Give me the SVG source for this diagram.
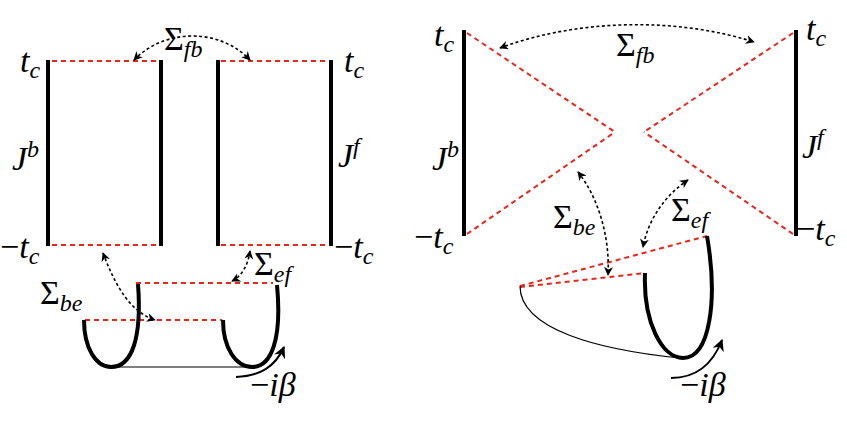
<svg xmlns="http://www.w3.org/2000/svg" width="847" height="426" viewBox="0 0 847 426">
<defs>
<style>
.thick{stroke:#000;stroke-width:4;fill:none}
.thin{stroke:#000;stroke-width:1.2;fill:none}
.red{stroke:#e8261c;stroke-width:2;stroke-dasharray:5,4;fill:none}
.dot{stroke:#000;stroke-width:1.6;stroke-dasharray:3,2.5;fill:none;marker-start:url(#ah);marker-end:url(#ah)}
.arr{stroke:#000;stroke-width:2;fill:none;marker-end:url(#ah2)}
text{font-family:"Liberation Serif","DejaVu Serif",serif;font-style:italic;fill:#000}
.up{font-style:normal}
</style>
<marker id="ah" viewBox="0 0 10 10" refX="9" refY="5" markerWidth="9" markerHeight="9" markerUnits="userSpaceOnUse" orient="auto-start-reverse"><path d="M0,0L10,5L0,10L3,5Z" fill="#000"/></marker>
<marker id="ah2" viewBox="0 0 10 10" refX="9" refY="5" markerWidth="12" markerHeight="12" markerUnits="userSpaceOnUse" orient="auto"><path d="M0,0L10,5L0,10L3,5Z" fill="#000"/></marker>
</defs>
<g id="left-b" font-size="34">
<line class="thick" x1="48" y1="60" x2="48" y2="246"/>
<line class="thick" x1="161" y1="60" x2="161" y2="246"/>
<line class="red" x1="52" y1="61" x2="159" y2="61"/>
<line class="red" x1="52" y1="245" x2="159" y2="245"/>
<text x="20" y="72">t<tspan font-size="24" dy="6">c</tspan></text>
<text x="12" y="170">J<tspan font-size="24" dy="-13">b</tspan></text>
<text x="0" y="258"><tspan class="up">−</tspan>t<tspan font-size="24" dy="6">c</tspan></text>
</g>
<g id="left-f" font-size="34">
<line class="thick" x1="218" y1="60" x2="218" y2="246"/>
<line class="thick" x1="331" y1="60" x2="331" y2="246"/>
<line class="red" x1="221" y1="61" x2="329" y2="61"/>
<line class="red" x1="221" y1="245" x2="329" y2="245"/>
<text x="344" y="72">t<tspan font-size="24" dy="6">c</tspan></text>
<text x="338" y="167">J<tspan font-size="24" dy="-13">f</tspan></text>
<text x="334" y="258"><tspan class="up">−</tspan>t<tspan font-size="24" dy="6">c</tspan></text>
</g>
<g id="left-e" font-size="34">
<line class="red" x1="136" y1="283" x2="273" y2="283"/>
<line class="red" x1="85" y1="320" x2="222" y2="320"/>
<path class="thick" d="M84,320 C84,348 96,367 111,367 C132,367 142,338 138,284"/>
<path class="thick" d="M223,320 C223,348 236,367 252,367 C272,367 282,338 277,285"/>
<line class="thin" x1="111" y1="367" x2="252" y2="367"/>
<text x="250" y="396"><tspan class="up">−</tspan>iβ</text>
</g>
<g id="right-b" font-size="34">
<line class="thick" x1="464" y1="30" x2="464" y2="236"/>
<line class="red" x1="467" y1="33" x2="615" y2="132"/>
<line class="red" x1="467" y1="234" x2="615" y2="132"/>
<text x="434" y="46">t<tspan font-size="24" dy="6">c</tspan></text>
<text x="432" y="170">J<tspan font-size="24" dy="-13">b</tspan></text>
<text x="414" y="248"><tspan class="up">−</tspan>t<tspan font-size="24" dy="6">c</tspan></text>
</g>
<g id="right-f" font-size="34">
<line class="thick" x1="796" y1="30" x2="796" y2="236"/>
<line class="red" x1="793" y1="33" x2="644" y2="132"/>
<line class="red" x1="793" y1="234" x2="644" y2="132"/>
<text x="806" y="40">t<tspan font-size="24" dy="6">c</tspan></text>
<text x="802" y="158">J<tspan font-size="24" dy="-13">f</tspan></text>
<text x="796" y="240"><tspan class="up">−</tspan>t<tspan font-size="24" dy="6">c</tspan></text>
</g>
<g id="right-e" font-size="34">
<line class="red" x1="520" y1="286" x2="707" y2="236"/>
<line class="red" x1="520" y1="287" x2="645" y2="273"/>
<path class="thick" d="M645,273 C643,322 662,358 683,358 C710,358 718,300 707,236"/>
<path class="thin" d="M520,286 C520,330 600,350 680,358"/>
<text x="680" y="396"><tspan class="up">−</tspan>iβ</text>
</g>
<g id="connectors">
<path class="dot" d="M134,60 C165,28 220,28 250,60"/>
<path class="dot" d="M103,253 C115,285 130,312 155,320"/>
<path class="dot" d="M250,251 C248,265 242,276 232,281"/>
<path class="dot" d="M500,48 C580,18 680,18 754,42"/>
<path class="dot" d="M578,172 C600,200 610,240 608,275"/>
<path class="dot" d="M688,180 C665,195 648,220 643,247"/>
<path class="arr" d="M236,377 C260,376 275,367 284,347"/>
<path class="arr" d="M671,378 C695,378 712,366 722,340"/>
</g>
<g id="labels" font-size="34">
<text x="164" y="50"><tspan class="up">Σ</tspan><tspan font-size="24" dy="7">fb</tspan></text>
<text x="40" y="304"><tspan class="up">Σ</tspan><tspan font-size="24" dy="7">be</tspan></text>
<text x="254" y="275"><tspan class="up">Σ</tspan><tspan font-size="24" dy="7">ef</tspan></text>
<text x="616" y="56"><tspan class="up">Σ</tspan><tspan font-size="24" dy="7">fb</tspan></text>
<text x="553" y="228"><tspan class="up">Σ</tspan><tspan font-size="24" dy="7">be</tspan></text>
<text x="671" y="221"><tspan class="up">Σ</tspan><tspan font-size="24" dy="7">ef</tspan></text>
</g>
</svg>
